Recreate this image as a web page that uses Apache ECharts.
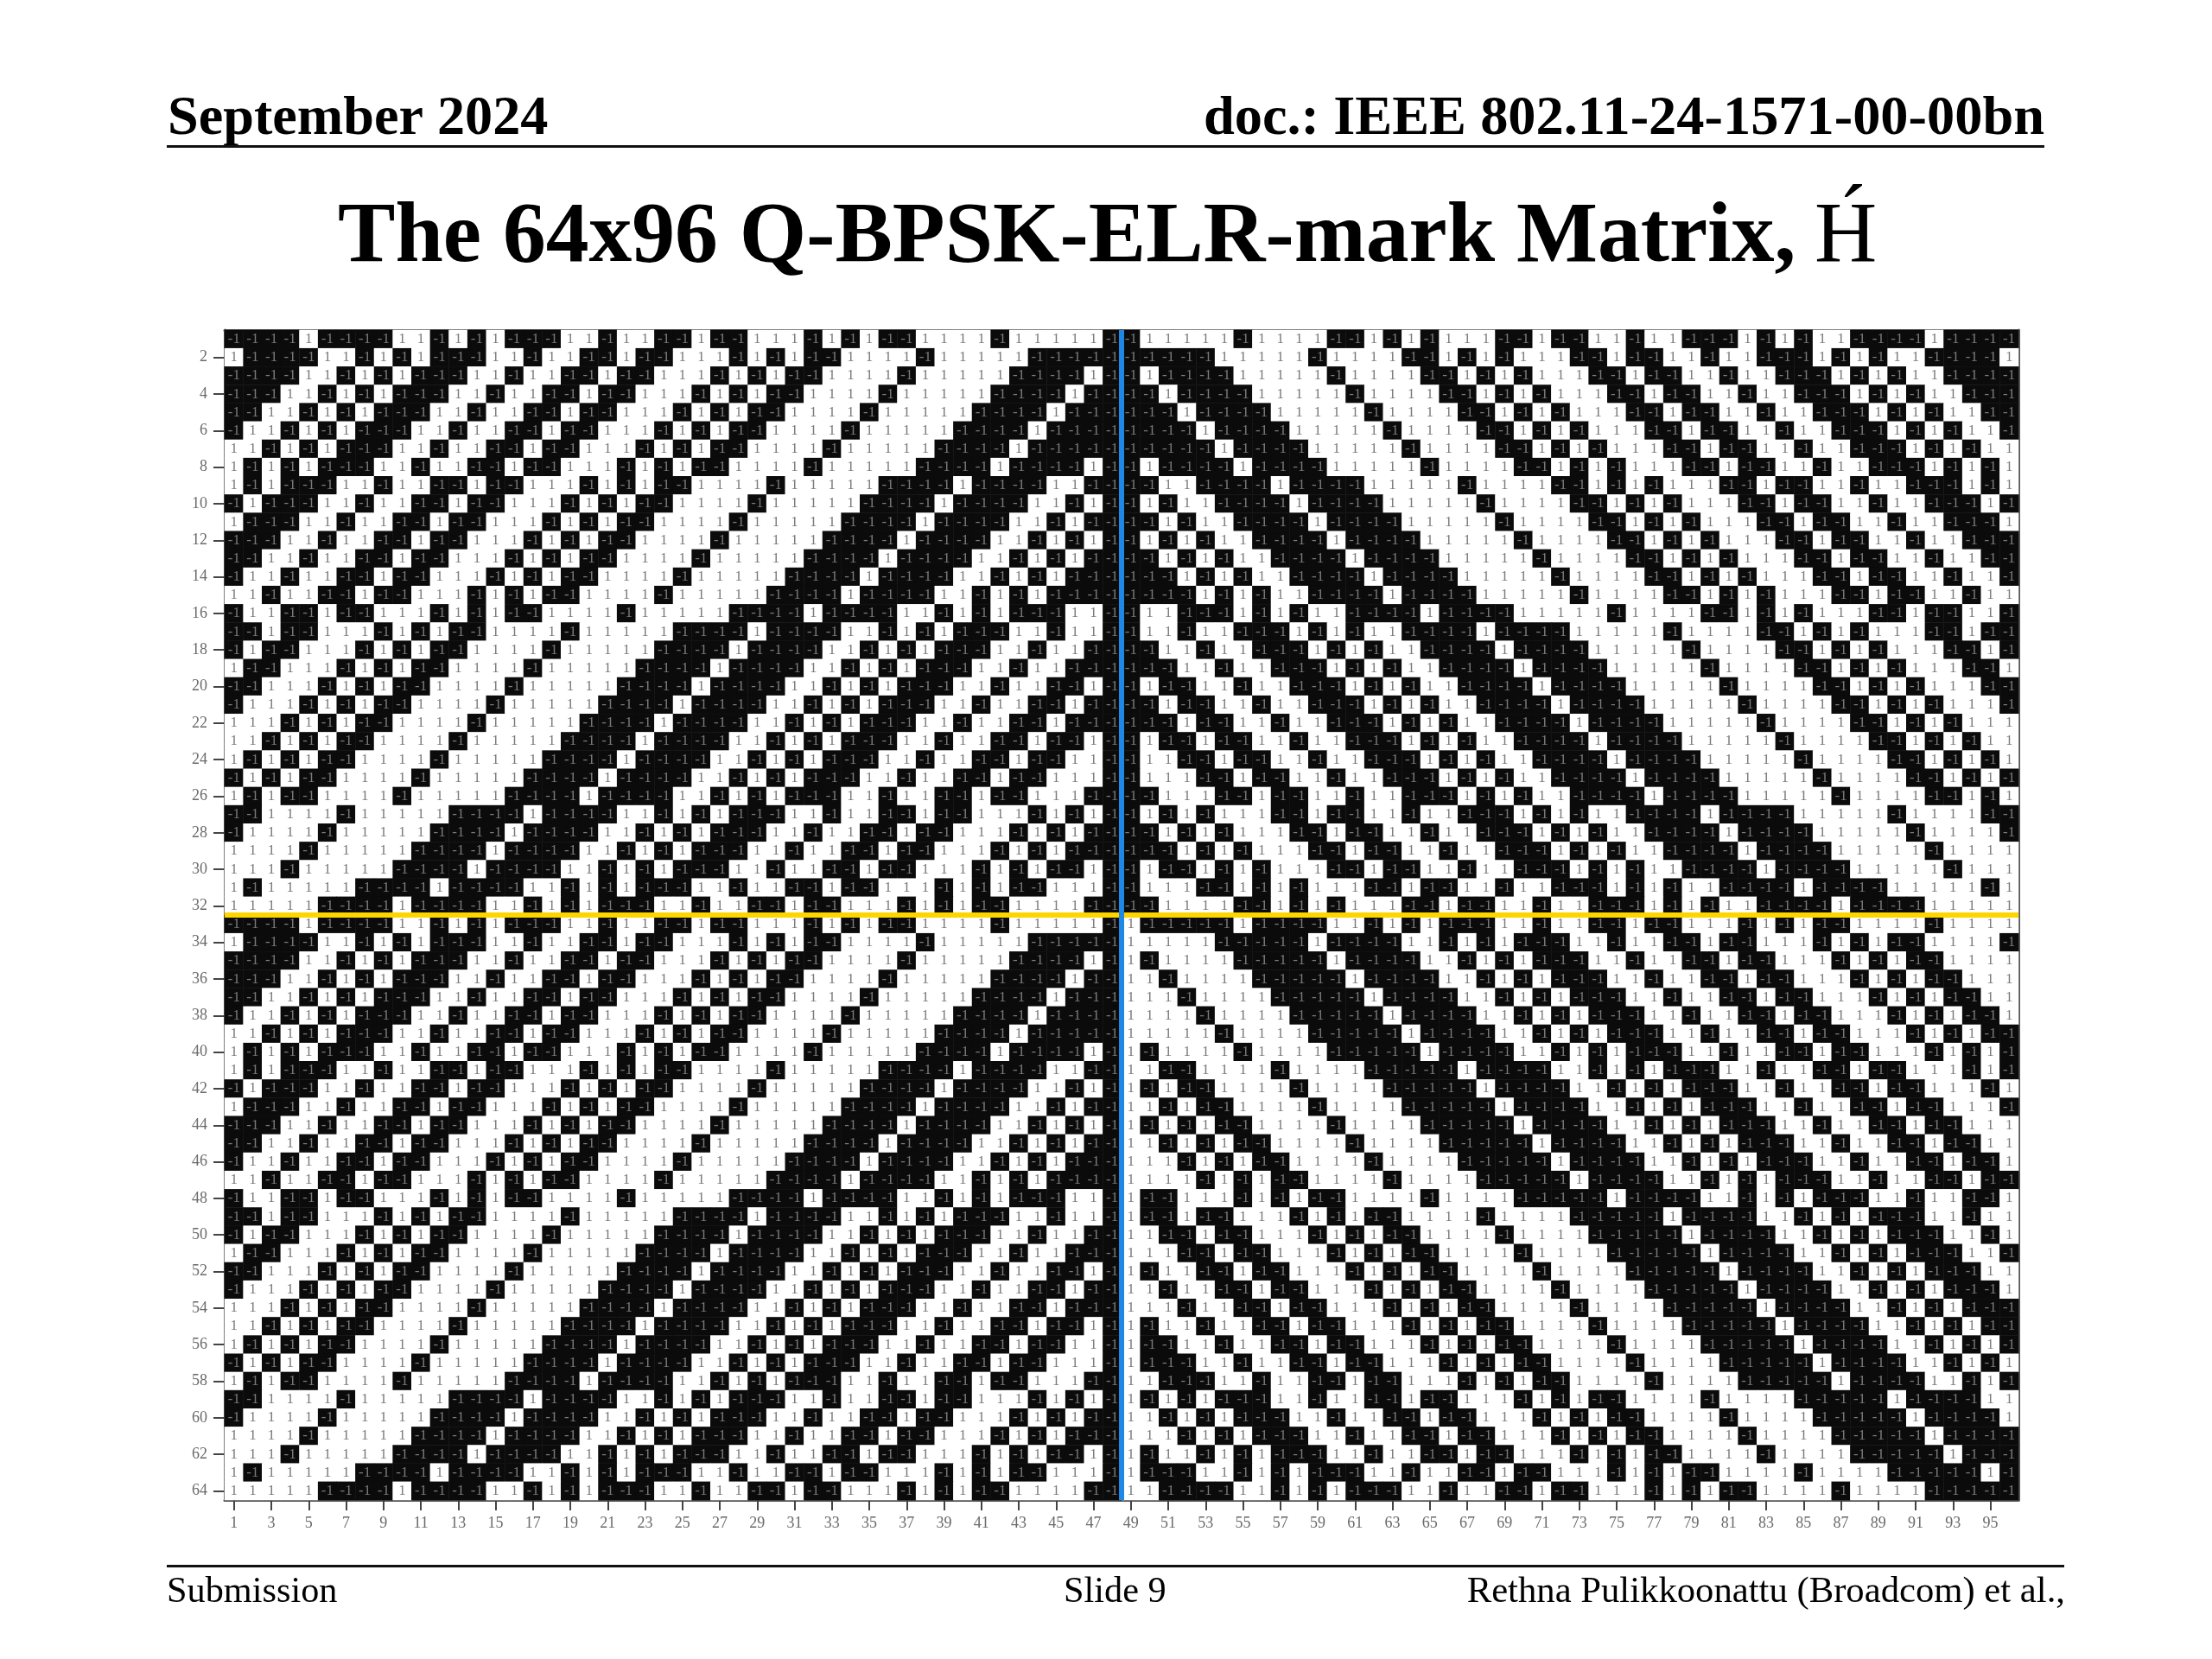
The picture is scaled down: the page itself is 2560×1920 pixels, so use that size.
<!DOCTYPE html>
<html><head><meta charset="utf-8">
<style>html,body{margin:0;padding:0;background:#fff}#c{width:2560px;height:1920px}</style>
<script src="https://cdn.jsdelivr.net/npm/echarts@6/dist/echarts.min.js"></script>
</head><body><div id="c"></div>
<script>
// X = -1 (black cell), . = +1 (white cell). Rows top to bottom; a space only groups columns.
const topLeft = [
"XXXX.XXXX..X.X.XXX..X..XX.XX...X .X.XX....X.....X",
".XXXX..X.X.XXX..X..XX.XX...X.X.X X....X.....XXXXX",
"XXXX..X.X.XXX..X..XX.XX...X.X.XX ....X.....XXXX.X",
"XXX..X.X.XXX..X..XX.XX...X.X.XX. ...X.....XXXX.XX",
"XX..X.X.XXX..X..XX.XX...X.X.XX.. ..X.....XXXX.XXX",
"X..X.X.XXX..X..XX.XX...X.X.XX... .X.....XXXX.XXXX",
"..X.X.XXX..X..XX.XX...X.X.XX.... X.....XXXX.XXXXX",
".X.X.XXX..X..XX.XX...X.X.XX....X .....XXXX.XXXX.X",
".X.XXX..X..XX.XX...X.X.XX....X.. ...XXXX.XXXX..XX",
"X.XXX..X..XX.XX...X.X.XX....X... ..XXXX.XXXX..X.X",
".XXX..X..XX.XX...X.X.XX....X.... .XXXX.XXXX..X.XX",
"XXX..X..XX.XX...X.X.XX....X..... XXXX.XXXX..X.X.X",
"XX..X..XX.XX...X.X.XX....X.....X XXX.XXXX..X.X.XX",
"X..X..XX.XX...X.X.XX....X.....XX XX.XXXX..X.X.XXX",
"..X..XX.XX...X.X.XX....X.....XXX X.XXXX..X.X.XXXX",
"X..XX.XX...X.X.XX....X.....XXXX. XXXX..X.X.XXX..X",
"XX.XX...X.X.XX....X.....XXXX.XXX X..X.X.XXX..X..X",
"X.XX...X.X.XX....X.....XXXX.XXXX ..X.X.XXX..X..XX",
".XX...X.X.XX....X.....XXXX.XXXX. .X.X.XXX..X..XXX",
"XX...X.X.XX....X.....XXXX.XXXX.. X.X.XXX..X..XX.X",
"X...X.X.XX....X.....XXXX.XXXX..X .X.XXX..X..XX.XX",
"...X.X.XX....X.....XXXX.XXXX..X. X.XXX..X..XX.XXX",
"..X.X.XX....X.....XXXX.XXXX..X.X .XXX..X..XX.XX.X",
".X.X.XX....X.....XXXX.XXXX..X.X. XXX..X..XX.XX..X",
"X.X.XX....X.....XXXX.XXXX..X.X.X XX..X..XX.XX...X",
".X.XX....X.....XXXX.XXXX..X.X.XX X..X..XX.XX...XX",
"XX....X.....XXXX.XXXX..X.X.XXX.. X..XX.XX...X.X.X",
"X....X.....XXXX.XXXX..X.X.XXX..X ..XX.XX...X.X.XX",
"....X.....XXXX.XXXX..X.X.XXX..X. .XX.XX...X.X.XXX",
"...X.....XXXX.XXXX..X.X.XXX..X.. XX.XX...X.X.XX.X",
".X.....XXXX.XXXX..X.X.XXX..X..XX .XX...X.X.XX...X",
".....XXXX.XXXX..X.X.XXX..X..XX.X X...X.X.XX....XX"
];
const topRight = [
"X.....X....XX.X. X...XX.XX..X..XXX.X.X..XXXX.XXXX",
"XXXXX.....X....X X.X.X...XX.XX..X..XXX.X.X..XXXX.",
"X.XXXX.....X.... XX.X.X...XX.XX..X..XXX.X.X..XXXX",
"XX.XXXX.....X... .XX.X.X...XX.XX..X..XXX.X.X..XXX",
"XXX.XXXX.....X.. ..XX.X.X...XX.XX..X..XXX.X.X..XX",
"XXXX.XXXX.....X. ...XX.X.X...XX.XX..X..XXX.X.X..X",
"XXXXX.XXXX.....X ....XX.X.X...XX.XX..X..XXX.X.X..",
"X.XXXX.XXXX..... X....XX.X.X...XX.XX..X..XXX.X.X.",
"XX..XXXX.XXXX... ..X....XX.X.X...XX.XX..X..XXX.X.",
"X.X..XXXX.XXXX.. ...X....XX.X.X...XX.XX..X..XXX.X",
"XX.X..XXXX.XXXX. ....X....XX.X.X...XX.XX..X..XXX.",
"X.X.X..XXXX.XXXX .....X....XX.X.X...XX.XX..X..XXX",
"XX.X.X..XXXX.XXX X.....X....XX.X.X...XX.XX..X..XX",
"XXX.X.X..XXXX.XX XX.....X....XX.X.X...XX.XX..X..X",
"XXXX.X.X..XXXX.X XXX.....X....XX.X.X...XX.XX..X..",
"X..XXX.X.X..XXXX .XXXX.....X....XX.X.X...XX.XX..X",
"X..X..XXX.X.X..X XXX.XXXX.....X....XX.X.X...XX.XX",
"XX..X..XXX.X.X.. XXXX.XXXX.....X....XX.X.X...XX.X",
"XXX..X..XXX.X.X. .XXXX.XXXX.....X....XX.X.X...XX.",
"X.XX..X..XXX.X.X ..XXXX.XXXX.....X....XX.X.X...XX",
"XX.XX..X..XXX.X. X..XXXX.XXXX.....X....XX.X.X...X",
"XXX.XX..X..XXX.X .X..XXXX.XXXX.....X....XX.X.X...",
"X.XX.XX..X..XXX. X.X..XXXX.XXXX.....X....XX.X.X..",
"X..XX.XX..X..XXX .X.X..XXXX.XXXX.....X....XX.X.X.",
"X...XX.XX..X..XX X.X.X..XXXX.XXXX.....X....XX.X.X",
"XX...XX.XX..X..X XX.X.X..XXXX.XXXX.....X....XX.X.",
"X.X.X...XX.XX..X ..XXX.X.X..XXXX.XXXX.....X....XX",
"XX.X.X...XX.XX.. X..XXX.X.X..XXXX.XXXX.....X....X",
"XXX.X.X...XX.XX. .X..XXX.X.X..XXXX.XXXX.....X....",
"X.XX.X.X...XX.XX ..X..XXX.X.X..XXXX.XXXX.....X...",
"X...XX.X.X...XX. XX..X..XXX.X.X..XXXX.XXXX.....X.",
"XX....XX.X.X...X X.XX..X..XXX.X.X..XXXX.XXXX....."
];
const bottomLeft = [
"XXXX.XXXX..X.X.XXX..X..XX.XX...X .X.XX....X.....X",
".XXXX..X.X.XXX..X..XX.XX...X.X.X X....X.....XXXXX",
"XXXX..X.X.XXX..X..XX.XX...X.X.XX ....X.....XXXX.X",
"XXX..X.X.XXX..X..XX.XX...X.X.XX. ...X.....XXXX.XX",
"XX..X.X.XXX..X..XX.XX...X.X.XX.. ..X.....XXXX.XXX",
"X..X.X.XXX..X..XX.XX...X.X.XX... .X.....XXXX.XXXX",
"..X.X.XXX..X..XX.XX...X.X.XX.... X.....XXXX.XXXXX",
".X.X.XXX..X..XX.XX...X.X.XX....X .....XXXX.XXXX.X",
".X.XXX..X..XX.XX...X.X.XX....X.. ...XXXX.XXXX..XX",
"X.XXX..X..XX.XX...X.X.XX....X... ..XXXX.XXXX..X.X",
".XXX..X..XX.XX...X.X.XX....X.... .XXXX.XXXX..X.XX",
"XXX..X..XX.XX...X.X.XX....X..... XXXX.XXXX..X.X.X",
"XX..X..XX.XX...X.X.XX....X.....X XXX.XXXX..X.X.XX",
"X..X..XX.XX...X.X.XX....X.....XX XX.XXXX..X.X.XXX",
"..X..XX.XX...X.X.XX....X.....XXX X.XXXX..X.X.XXXX",
"X..XX.XX...X.X.XX....X.....XXXX. XXXX..X.X.XXX..X",
"XX.XX...X.X.XX....X.....XXXX.XXX X..X.X.XXX..X..X",
"X.XX...X.X.XX....X.....XXXX.XXXX ..X.X.XXX..X..XX",
".XX...X.X.XX....X.....XXXX.XXXX. .X.X.XXX..X..XXX",
"XX...X.X.XX....X.....XXXX.XXXX.. X.X.XXX..X..XX.X",
"X...X.X.XX....X.....XXXX.XXXX..X .X.XXX..X..XX.XX",
"...X.X.XX....X.....XXXX.XXXX..X. X.XXX..X..XX.XXX",
"..X.X.XX....X.....XXXX.XXXX..X.X .XXX..X..XX.XX.X",
".X.X.XX....X.....XXXX.XXXX..X.X. XXX..X..XX.XX..X",
"X.X.XX....X.....XXXX.XXXX..X.X.X XX..X..XX.XX...X",
".X.XX....X.....XXXX.XXXX..X.X.XX X..X..XX.XX...XX",
"XX....X.....XXXX.XXXX..X.X.XXX.. X..XX.XX...X.X.X",
"X....X.....XXXX.XXXX..X.X.XXX..X ..XX.XX...X.X.XX",
"....X.....XXXX.XXXX..X.X.XXX..X. .XX.XX...X.X.XXX",
"...X.....XXXX.XXXX..X.X.XXX..X.. XX.XX...X.X.XX.X",
".X.....XXXX.XXXX..X.X.XXX..X..XX .XX...X.X.XX...X",
".....XXXX.XXXX..X.X.XXX..X..XX.X X...X.X.XX....XX"
];
const bottomRight = [
".XXXXX.XXXX..X.X .XXX..X..XX.XX...X.X.XX....X....",
".....XXXXX.XXXX. .X.X.XXX..X..XX.XX...X.X.XX....X",
".X....XXXXX.XXXX ..X.X.XXX..X..XX.XX...X.X.XX....",
"..X....XXXXX.XXX X..X.X.XXX..X..XX.XX...X.X.XX...",
"...X....XXXXX.XX XX..X.X.XXX..X..XX.XX...X.X.XX..",
"....X....XXXXX.X XXX..X.X.XXX..X..XX.XX...X.X.XX.",
".....X....XXXXX. XXXX..X.X.XXX..X..XX.XX...X.X.XX",
".X....X....XXXXX .XXXX..X.X.XXX..X..XX.XX...X.X.X",
"..XX....X....XXX XX.XXXX..X.X.XXX..X..XX.XX...X.X",
".X.XX....X....XX XXX.XXXX..X.X.XXX..X..XX.XX...X.",
"..X.XX....X....X XXXX.XXXX..X.X.XXX..X..XX.XX...X",
".X.X.XX....X.... XXXXX.XXXX..X.X.XXX..X..XX.XX...",
"..X.X.XX....X... .XXXXX.XXXX..X.X.XXX..X..XX.XX..",
"...X.X.XX....X.. ..XXXXX.XXXX..X.X.XXX..X..XX.XX.",
"....X.X.XX....X. ...XXXXX.XXXX..X.X.XXX..X..XX.XX",
".XX...X.X.XX.... X....XXXXX.XXXX..X.X.XXX..X..XX.",
".XX.XX...X.X.XX. ...X....XXXXX.XXXX..X.X.XXX..X..",
"..XX.XX...X.X.XX ....X....XXXXX.XXXX..X.X.XXX..X.",
"...XX.XX...X.X.X X....X....XXXXX.XXXX..X.X.XXX..X",
".X..XX.XX...X.X. XX....X....XXXXX.XXXX..X.X.XXX..",
"..X..XX.XX...X.X .XX....X....XXXXX.XXXX..X.X.XXX.",
"...X..XX.XX...X. X.XX....X....XXXXX.XXXX..X.X.XXX",
".X..X..XX.XX...X .X.XX....X....XXXXX.XXXX..X.X.XX",
".XX..X..XX.XX... X.X.XX....X....XXXXX.XXXX..X.X.X",
".XXX..X..XX.XX.. .X.X.XX....X....XXXXX.XXXX..X.X.",
"..XXX..X..XX.XX. ..X.X.XX....X....XXXXX.XXXX..X.X",
".X.X.XXX..X..XX. XX...X.X.XX....X....XXXXX.XXXX..",
"..X.X.XXX..X..XX .XX...X.X.XX....X....XXXXX.XXXX.",
"...X.X.XXX..X..X X.XX...X.X.XX....X....XXXXX.XXXX",
".X..X.X.XXX..X.. XX.XX...X.X.XX....X....XXXXX.XXX",
".XXX..X.X.XXX..X ..XX.XX...X.X.XX....X....XXXXX.X",
"..XXXX..X.X.XXX. .X..XX.XX...X.X.XX....X....XXXXX"
];
const columnLabels = Array.from({length:96},(_,i)=>String(i+1));
const rowLabels = Array.from({length:64},(_,i)=>String(i+1));
const columnSplit = [48];
const rowSplit = [32];

const upperRows = topLeft.map((r,i)=>(r+topRight[i]).replace(/ /g,''));
const lowerRows = bottomLeft.map((r,i)=>(r+bottomRight[i]).replace(/ /g,''));
const allRows = upperRows.concat(lowerRows);
const cells = [];
allRows.forEach((r,y)=>{ for(let x=0;x<r.length;x++) cells.push([x,y,r[x]==='X'?-1:1]); });

const SERIF = '"Liberation Serif","Times New Roman",serif';
const txt=(text,x,y,size,weight,align)=>({type:'text',silent:true,z:20,style:{text,x,y,fill:'#000',align:align||'left',verticalAlign:'bottom',font:`${weight} ${size}px ${SERIF}`}});
const rule=(x,y,w,h)=>({type:'rect',silent:true,z:20,shape:{x,y,width:w,height:h},style:{fill:'#111'}});

const chart = echarts.init(document.getElementById('c'),null,{renderer:'canvas',width:2560,height:1920});
const G={left:260,top:382,width:2076,height:1354};
chart.setOption({
  animation:false,
  backgroundColor:'#fff',
  grid:[Object.assign({},G),Object.assign({},G)],
  visualMap:{show:false,type:'piecewise',seriesIndex:0,pieces:[{value:-1,color:'#0b0b0b'},{value:1,color:'#ffffff'}]},
  xAxis:[
    {type:'category',data:columnLabels,position:'bottom',gridIndex:0,
     axisLine:{show:true,lineStyle:{color:'#555',width:3}},
     axisTick:{show:true,alignWithLabel:true,length:12,interval:(i)=>i%2===0,lineStyle:{color:'#444',width:2}},
     axisLabel:{interval:(i)=>i%2===0,fontFamily:SERIF,fontSize:18,color:'#6a6a6a',margin:18},
     splitLine:{show:false},splitArea:{show:false}},
    {type:'value',min:0,max:96,position:'top',gridIndex:1,axisLine:{show:true,onZero:false,lineStyle:{color:'#555',width:3}},axisTick:{show:false},axisLabel:{show:false},splitLine:{show:false}}
  ],
  yAxis:[
    {type:'category',data:rowLabels,inverse:true,position:'left',gridIndex:0,
     axisLine:{show:true,lineStyle:{color:'#555',width:3}},
     axisTick:{show:true,alignWithLabel:true,length:13,interval:(i)=>i%2===1,lineStyle:{color:'#444',width:2}},
     axisLabel:{interval:(i)=>i%2===1,fontFamily:SERIF,fontSize:18,color:'#6a6a6a',margin:20},
     splitLine:{show:false},splitArea:{show:false}},
    {type:'value',min:0,max:64,inverse:true,position:'right',gridIndex:1,axisLine:{show:true,onZero:false,lineStyle:{color:'#555',width:3}},axisTick:{show:false},axisLabel:{show:false},splitLine:{show:false}}
  ],
  series:[
    {type:'heatmap',xAxisIndex:0,yAxisIndex:0,data:cells,progressive:0,
     itemStyle:{borderWidth:0},
     label:{show:true,fontFamily:SERIF,fontSize:17,color:'#7a7a7a',formatter:(p)=>String(p.value[2])},
     emphasis:{disabled:true}},
    {type:'line',xAxisIndex:1,yAxisIndex:1,z:5,symbol:'none',silent:true,
     data:[[0,rowSplit[0]],[96,rowSplit[0]]],lineStyle:{color:'#FFD500',width:6}},
    {type:'line',xAxisIndex:1,yAxisIndex:1,z:6,symbol:'none',silent:true,
     data:[[columnSplit[0],0],[columnSplit[0],64]],lineStyle:{color:'#1E88E5',width:6}}
  ],
  graphic:{elements:[
    txt('September 2024',194,170,64.2,'bold'),
    txt('doc.: IEEE 802.11-24-1571-00-00bn',2366,170,64.4,'bold','right'),
    rule(193,168,2173,3),
    txt('The 64x96 Q-BPSK-ELR-mark Matrix,',391,326,99.6,'bold'),
    txt('H\u0301',2100,326,100,'normal'),
    rule(193,1811,2196,3),
    txt('Submission',193,1864,42.3,'normal'),
    txt('Slide 9',1231,1864,42.3,'normal'),
    txt('Rethna Pulikkoonattu (Broadcom) et al.,',2390,1864,42.7,'normal','right')
  ]}
});
</script>
</body></html>
